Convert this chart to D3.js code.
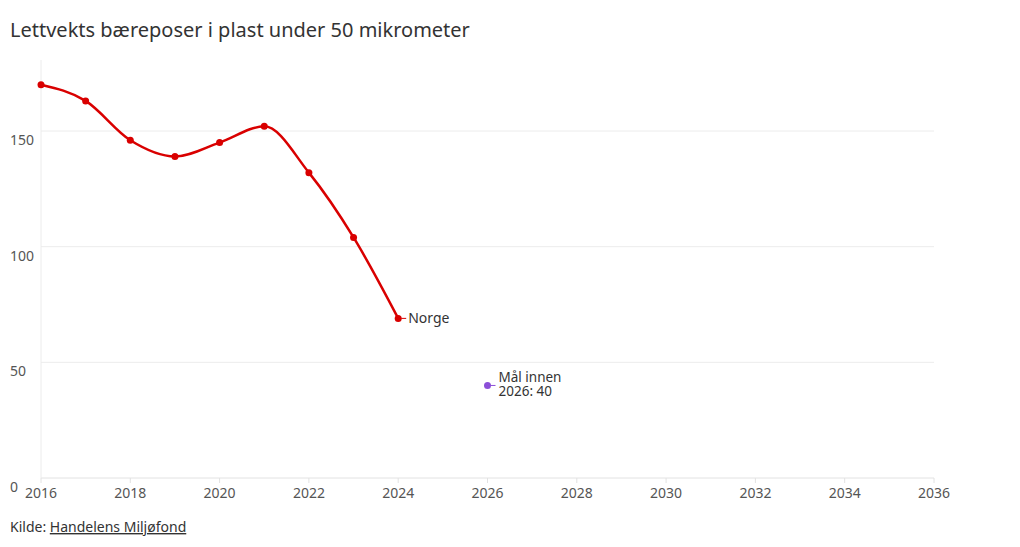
<!DOCTYPE html>
<html>
<head>
<meta charset="utf-8">
<script src="https://cdn.jsdelivr.net/npm/d3@7"></script>
<style>
  body { margin: 0; background: #fff; font-family: "Noto Sans", "Open Sans", sans-serif; }
  svg text { font-family: "Noto Sans", "Open Sans", sans-serif; }
</style>
</head>
<body>
<svg id="chart" width="1020" height="547"></svg>
<script>
const years = [2016, 2017, 2018, 2019, 2020, 2021, 2022, 2023, 2024];
const norge = [170, 163, 146, 139, 145, 152, 132, 104, 69];
const goalYear = 2026;
const goalValue = 40;
const xTicks = [2016, 2018, 2020, 2022, 2024, 2026, 2028, 2030, 2032, 2034, 2036];
const yTicks = [0, 50, 100, 150];

const svg = d3.select("#chart");
const x = d3.scaleLinear().domain([2016, 2036]).range([41, 934]);
const y = d3.scaleLinear().domain([0, 150]).range([478, 131]);

svg.append("text")
  .attr("x", 10).attr("y", 37)
  .attr("font-size", 20).attr("fill", "#333")
  .text("Lettvekts bæreposer i plast under 50 mikrometer");

// y grid + labels
const gy = svg.append("g");
gy.selectAll("line").data(yTicks).join("line")
  .attr("x1", 41).attr("x2", 934)
  .attr("y1", d => y(d)).attr("y2", d => y(d))
  .attr("stroke", d => d === 0 ? "#e2e2e2" : "#ececec").attr("stroke-width", 1);
gy.selectAll("text").data(yTicks).join("text")
  .attr("x", 10).attr("y", d => y(d) + 14)
  .attr("font-size", 14).attr("fill", "#555")
  .text(d => d);

// vertical line at first year
svg.append("line")
  .attr("x1", x(2016)).attr("x2", x(2016))
  .attr("y1", 60).attr("y2", 478)
  .attr("stroke", "#ececec");

// x axis ticks + labels
const gx = svg.append("g");
gx.selectAll("line").data(xTicks).join("line")
  .attr("x1", d => x(d)).attr("x2", d => x(d))
  .attr("y1", 478).attr("y2", 483)
  .attr("stroke", "#e2e2e2");
gx.selectAll("text").data(xTicks).join("text")
  .attr("x", d => x(d)).attr("y", 498)
  .attr("text-anchor", "middle")
  .attr("font-size", 14).attr("fill", "#555")
  .text(d => d);

// line
const data = years.map((yr, i) => ({ yr, v: norge[i] }));
const line = d3.line().x(d => x(d.yr)).y(d => y(d.v)).curve(d3.curveMonotoneX);
svg.append("path").datum(data)
  .attr("d", line)
  .attr("fill", "none").attr("stroke", "#d90000").attr("stroke-width", 2.5);
svg.selectAll("circle.pt").data(data).join("circle")
  .attr("class", "pt")
  .attr("cx", d => x(d.yr)).attr("cy", d => y(d.v)).attr("r", 3.5)
  .attr("fill", "#d90000");

// Norge label
const last = data[data.length - 1];
svg.append("line")
  .attr("x1", x(last.yr) + 3).attr("x2", x(last.yr) + 8)
  .attr("y1", y(last.v)).attr("y2", y(last.v))
  .attr("stroke", "#d90000").attr("stroke-width", 1);
svg.append("text")
  .attr("x", x(last.yr) + 10).attr("y", y(last.v) + 5)
  .attr("font-size", 14).attr("fill", "#333")
  .text("Norge");

// goal point
svg.append("circle")
  .attr("cx", x(goalYear)).attr("cy", y(goalValue)).attr("r", 3.5)
  .attr("fill", "#8c4fd8");
svg.append("line")
  .attr("x1", x(goalYear) + 3).attr("x2", x(goalYear) + 8)
  .attr("y1", y(goalValue)).attr("y2", y(goalValue))
  .attr("stroke", "#8c4fd8").attr("stroke-width", 1);
const gl = svg.append("text")
  .attr("x", x(goalYear) + 11).attr("y", y(goalValue) - 3)
  .attr("font-size", 13.5).attr("fill", "#333");
gl.append("tspan").attr("x", x(goalYear) + 11).text("Mål innen");
gl.append("tspan").attr("x", x(goalYear) + 11).attr("dy", 14).text("2026: " + goalValue);

// source
const src = svg.append("text")
  .attr("x", 10).attr("y", 532)
  .attr("font-size", 14).attr("fill", "#333");
src.append("tspan").text("Kilde: ");
src.append("tspan").attr("text-decoration", "underline").text("Handelens Miljøfond");
</script>
</body>
</html>
